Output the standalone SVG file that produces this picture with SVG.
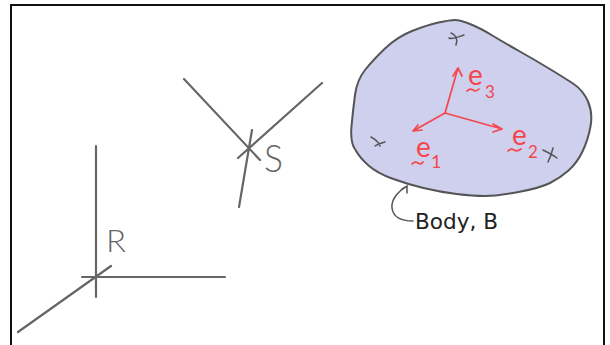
<svg xmlns="http://www.w3.org/2000/svg" width="610" height="345" viewBox="0 0 610 345">
<style>
.ax{fill:none;stroke:#666;stroke-width:2.2;stroke-linecap:round}
.mk{fill:none;stroke:#555;stroke-width:1.5;stroke-linecap:round}
.rd{fill:none;stroke:#f4464c;stroke-width:1.7;stroke-linecap:round;stroke-linejoin:round}
.hand{font-family:Lato,"DejaVu Sans",sans-serif;font-weight:300;fill:#666}
.red{font-family:Lato,"DejaVu Sans",sans-serif;font-weight:400;fill:#f4464c}
</style>
<rect width="610" height="345" fill="#fff"/>
<path d="M11 345V5H604V345" fill="none" stroke="#111" stroke-width="2"/>
<g id="body">
<path d="M438.500 22.500Q450 20 455 20Q460 20 470 24Q480 28 491.500 35Q503 42 519 51Q535 60 549 68.500Q563 77 573 83.500Q583 90 588 101.500Q593 113 590.500 126.500Q588 140 582.500 151.500Q577 163 568.500 170.500Q560 178 550 183Q540 188 518.500 192Q497 196 485 196Q473 196 456.500 194Q440 192 423.500 188Q407 184 392 178.500Q377 173 368.500 165.500Q360 158 355.500 150Q350 143 351.500 126Q353 110 355 95Q357 80 365 70Q373 60 385 48.500Q397 37 412 31Q427 25 438.500 22.500Z" fill="#cfcfee" stroke="#555" stroke-width="2"/>
<path class="mk" d="M449 38C453 40 460 36 464 35M451 33C456 35 458 39 456 45"/>
<path class="mk" d="M371 137C375 139 378 141 380 146M375 146C378 144 382 143 385 142"/>
<path class="mk" d="M543 150C547 152 553 155 557 158M553 148C552 152 550 158 548 162"/>
</g>
<g id="axes-e">
<path class="rd" d="M445 113L458 68M453 76L458 68L462 76"/>
<path class="rd" d="M445 113L502 129M493 124L502 129L493 132"/>
<path class="rd" d="M445 113L413 131M422 130L413 131L418 125"/>
<text class="red" x="468" y="85" font-size="28">e</text>
<text class="red" x="485" y="98" font-size="17">3</text>
<text class="red" x="512" y="145" font-size="28">e</text>
<text class="red" x="528" y="158" font-size="17">2</text>
<text class="red" x="416" y="157" font-size="28">e</text>
<text class="red" x="431" y="168" font-size="18">1</text>
<path class="rd" d="M467 91Q470 88 473 90T479 89M508 151Q511 148 514 150T521 149M412 164Q415 161 418 163T423 162"/>
</g>
<g id="frame-s">
<path class="ax" d="M184 79L260 160M322 83L238 158M252 130L239 207"/>
<text class="hand" x="264" y="172" font-size="38" textLength="19" lengthAdjust="spacingAndGlyphs">S</text>
</g>
<g id="frame-r">
<path class="ax" d="M96 146V297M82 277H225M111 266L18 332"/>
<text class="hand" x="106" y="252" font-size="32" textLength="20" lengthAdjust="spacingAndGlyphs">R</text>
</g>
<g id="label-body">
<path class="mk" d="M407 186C400 190 391 198 392 208C393 216 400 221 413 221M402 189L407 186L407 193"/>
<text x="415" y="229" font-family="DejaVu Sans, sans-serif" font-size="21" fill="#222" textLength="83" lengthAdjust="spacingAndGlyphs">Body, B</text>
</g>
</svg>
